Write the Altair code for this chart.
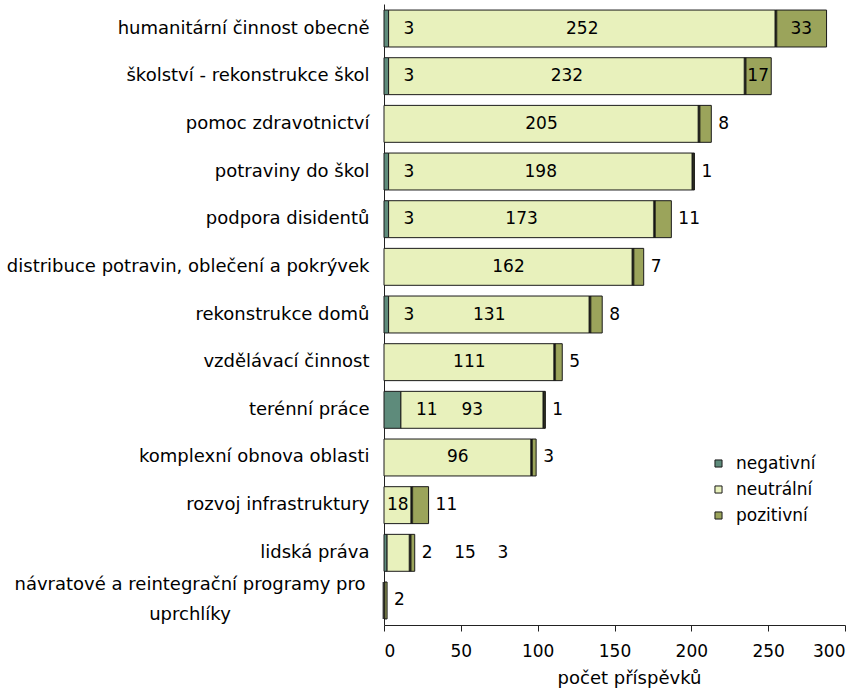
import altair as alt
import pandas as pd

# Hodnocení příspěvků podle oblasti pomoci
kategorie = [
    "humanitární činnost obecně",
    "školství - rekonstrukce škol",
    "pomoc zdravotnictví",
    "potraviny do škol",
    "podpora disidentů",
    "distribuce potravin, oblečení a pokrývek",
    "rekonstrukce domů",
    "vzdělávací činnost",
    "terénní práce",
    "komplexní obnova oblasti",
    "rozvoj infrastruktury",
    "lidská práva",
    "návratové a reintegrační programy pro\nuprchlíky",
]
negativni = [3, 3, 0, 3, 3, 0, 3, 0, 11, 0, 0, 2, 0]
neutralni = [252, 232, 205, 198, 173, 162, 131, 111, 93, 96, 18, 15, 0]
pozitivni = [33, 17, 8, 1, 11, 7, 8, 5, 1, 3, 11, 3, 2]

serie = ["negativní", "neutrální", "pozitivní"]
barvy = ["#5e8b7b", "#e8f1bc", "#9ba45b"]
osa_x = [0, 50, 100, 150, 200, 250, 300]

FONT = "DejaVu Sans"
FS = 17        # numbers and legend
FS_KAT = 18    # category names and axis title
NBSP = "\u00a0"

# stacked segments
seg_rows = []
for kat, neg, neu, poz in zip(kategorie, negativni, neutralni, pozitivni):
    start = 0
    for name, val in zip(serie, (neg, neu, poz)):
        if val > 0:
            seg_rows.append({"kat": kat, "serie": name, "od": start, "do": start + val})
        start += val
segmenty = pd.DataFrame(seg_rows)

# divider between neutral and positive parts
predel = pd.DataFrame(
    [{"kat": k, "x": n + u} for k, n, u, p in zip(kategorie, negativni, neutralni, pozitivni) if p > 0]
)

# value labels: inside where the segment is wide enough, the rest after the bar
lab_rows = []
for kat, neg, neu, poz in zip(kategorie, negativni, neutralni, pozitivni):
    venku = []
    neu_fits = neu >= 18
    if neg > 0:
        if neu_fits:
            lab_rows.append({"kat": kat, "x": neg, "text": str(neg), "druh": "neg"})
        else:
            venku.append(str(neg))
    if neu > 0:
        if neu_fits:
            lab_rows.append({"kat": kat, "x": neg + neu / 2, "text": str(neu), "druh": "stred"})
        else:
            venku.append(str(neu))
    if poz > 0:
        if poz >= 15:
            lab_rows.append({"kat": kat, "x": neg + neu + poz / 2, "text": str(poz), "druh": "stred"})
        else:
            venku.append(str(poz))
    if venku:
        lab_rows.append({
            "kat": kat,
            "x": neg + neu + poz,
            "text": (NBSP * 4).join(venku),
            "druh": "venku",
        })
popisky = pd.DataFrame(lab_rows)

y_enc = alt.Y(
    "kat:N",
    sort=kategorie,
    scale=alt.Scale(domain=kategorie, paddingInner=0.225, paddingOuter=0.127),
    axis=alt.Axis(
        title=None,
        ticks=False,
        labelPadding=15,
        labelFont=FONT,
        labelFontSize=FS_KAT,
        labelColor="black",
        labelLimit=400,
        domainColor="#222",
        labelExpr="length(datum.label) > 45 ? '' : datum.label",
    ),
)

x_scale = alt.Scale(domain=[0, 300], nice=False, zero=True)

bars = alt.Chart(segmenty).mark_bar(stroke="#1a1a1a", strokeWidth=1).encode(
    x=alt.X(
        "od:Q",
        scale=x_scale,
        axis=alt.Axis(
            values=osa_x,
            title="počet příspěvků",
            titleFont=FONT,
            titleFontSize=FS_KAT,
            titleFontWeight="normal",
            titleColor="black",
            titlePadding=10,
            titleX=245,
            labelFont=FONT,
            labelFontSize=FS,
            labelColor="black",
            labelPadding=12,
            tickSize=6,
            tickColor="#222",
            domainColor="#222",
            grid=False,
        ),
    ),
    x2="do:Q",
    y=y_enc,
    color=alt.Color(
        "serie:N",
        scale=alt.Scale(domain=serie, range=barvy),
        legend=alt.Legend(
            title=None,
            orient="none",
            legendX=326,
            legendY=451,
            symbolType="square",
            symbolSize=50,
            symbolStrokeColor="#1a1a1a",
            symbolStrokeWidth=1,
            labelFont=FONT,
            labelFontSize=FS,
            labelColor="black",
            rowPadding=8,
            labelOffset=9,
        ),
    ),
)

ticks = alt.Chart(predel).mark_tick(color="#111", thickness=3, size=37).encode(
    x=alt.X("x:Q", scale=x_scale),
    y=alt.Y("kat:N", sort=kategorie),
)


def popisek(druh, align, dx):
    return alt.Chart(popisky).transform_filter(
        alt.datum.druh == druh
    ).mark_text(align=align, baseline="middle", dx=dx, font=FONT, fontSize=FS, color="black").encode(
        x=alt.X("x:Q", scale=x_scale),
        y=alt.Y("kat:N", sort=kategorie),
        text="text:N",
    )


text_neg = popisek("neg", "left", 15)
text_center = popisek("stred", "center", 0)
text_out = popisek("venku", "left", 7)

# two-line category name, centred on itself
dlouhy = alt.Chart(pd.DataFrame({"kat": [kategorie[-1]]})).mark_text(
    align="center", baseline="middle", lineBreak="\n", lineHeight=30, dy=-15,
    font=FONT, fontSize=FS_KAT, color="black",
).encode(
    x=alt.value(-194),
    y=alt.Y("kat:N", sort=kategorie),
    text="kat:N",
)

chart = alt.layer(bars, ticks, text_neg, text_center, text_out, dlouhy).properties(
    width=461,
    height=621,
    autosize=alt.AutoSizeParams(type="none"),
    padding={"left": 384, "top": 4, "right": 17, "bottom": 73},
    background="white",
).configure_view(stroke=None)

chart.save("out.html", embed_options={"renderer": "svg", "actions": False})
